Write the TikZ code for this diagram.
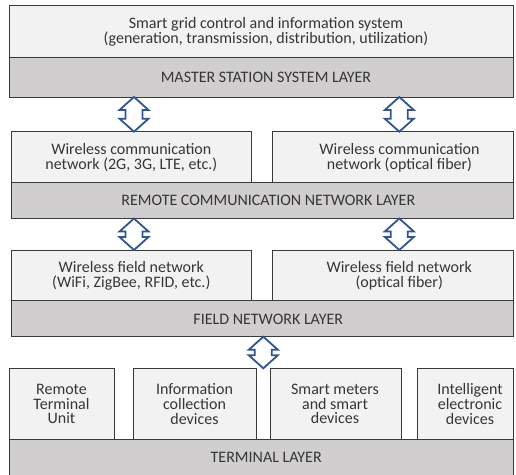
\documentclass[tikz,border=0pt]{standalone}
\usepackage{fontspec}
\setmainfont{Carlito}
\usetikzlibrary{calc}
\definecolor{lightbox}{HTML}{F2F2F2}
\definecolor{layerbox}{HTML}{D0CECE}
\definecolor{edgecol}{HTML}{3A3A3A}
\definecolor{txtcol}{HTML}{363636}
\definecolor{arrcol}{HTML}{2F5597}
\newcommand\updown[2]{\draw[dblarr] let \p1=#1, \p2=#2 in
 (\x1,\y1) -- (\x1+14.5pt,\y1-13pt) -- (\x1+8.5pt,\y1-13pt) -- (\x1+8.5pt,\y2+13pt)
 -- (\x1+14.5pt,\y2+13pt) -- (\x1,\y2) -- (\x1-14.5pt,\y2+13pt) -- (\x1-8.5pt,\y2+13pt)
 -- (\x1-8.5pt,\y1-13pt) -- (\x1-14.5pt,\y1-13pt) -- cycle;}
\begin{document}
\begin{tikzpicture}[x=1pt,y=-1pt,
  box/.style={draw=edgecol,line width=0.9pt,anchor=north west,inner sep=0pt,outer sep=0pt},
  subbox/.style={box,fill=lightbox},
  laybox/.style={box,fill=layerbox},
  txt/.style={text=txtcol,align=center,inner sep=0pt,font=\fontsize{16}{14.8}\selectfont},
  dblarr/.style={draw=arrcol,fill=white,line width=1.8pt,line join=miter}]
\useasboundingbox (0,0) rectangle (516,474);
% top block
\node[subbox,minimum width=504pt,minimum height=52pt] (top) at (9,5) {};
\node[laybox,minimum width=504pt,minimum height=40pt] (master) at (9,57) {};
\node[txt] (topt) at (266,32) {Smart grid control and information system\\(generation, transmission, distribution, utilization)};
\node[txt] (mastert) at (266,77) {MASTER STATION SYSTEM LAYER};
% remote communication
\node[subbox,minimum width=239.3pt,minimum height=51pt] (wc1) at (11.7,131.7) {};
\node[subbox,minimum width=240.3pt,minimum height=51pt] (wc2) at (272.7,131.7) {};
\node[laybox,minimum width=501.3pt,minimum height=35.8pt] (remote) at (11.7,182.7) {};
\node[txt] (wc1t) at (131.3,157.5) {Wireless communication\\network (2G, 3G, LTE, etc.)};
\node[txt] (wc2t) at (399.5,157.5) {Wireless communication\\network (optical fiber)};
\node[txt] (remotet) at (268.3,200.8) {REMOTE COMMUNICATION NETWORK LAYER};
% field network
\node[subbox,minimum width=239.3pt,minimum height=50.7pt] (wf1) at (11.7,250) {};
\node[subbox,minimum width=240.3pt,minimum height=50.7pt] (wf2) at (272.7,250) {};
\node[laybox,minimum width=501.3pt,minimum height=36pt] (field) at (11.7,300.7) {};
\node[txt] (wf1t) at (131.3,275.6) {Wireless field network\\(WiFi, ZigBee, RFID, etc.)};
\node[txt] (wf2t) at (399.2,275.6) {Wireless field network\\(optical fiber)};
\node[txt] (fieldt) at (268.3,318.9) {FIELD NETWORK LAYER};
% terminal
\node[subbox,minimum width=105.3pt,minimum height=71pt] (t1) at (9,368.3) {};
\node[subbox,minimum width=123.4pt,minimum height=71pt] (t2) at (133.3,368.3) {};
\node[subbox,minimum width=131pt,minimum height=71pt] (t3) at (270,368.3) {};
\node[subbox,minimum width=95.7pt,minimum height=71pt] (t4) at (417.3,368.3) {};
\node[laybox,minimum width=504pt,minimum height=45pt] (terminal) at (9,439.3) {};
\node[txt] (t1t) at (61.5,404) {Remote\\Terminal\\Unit};
\node[txt] (t2t) at (194.5,404) {Information\\collection\\devices};
\node[txt] (t3t) at (335,404) {Smart meters\\and smart\\devices};
\node[txt] (t4t) at (470,404) {Intelligent\\electronic\\devices};
\node[txt] (terminalt) at (266.2,457.3) {TERMINAL LAYER};
% arrows
\updown{(134,0 |- master.south)}{(134,0 |- wc1.north)}
\updown{(399.3,0 |- master.south)}{(399.3,0 |- wc2.north)}
\updown{(134,0 |- remote.south)}{(134,0 |- wf1.north)}
\updown{(399.3,0 |- remote.south)}{(399.3,0 |- wf2.north)}
\updown{(263.3,0 |- field.south)}{(263.3,0 |- t3.north)}
\end{tikzpicture}
\end{document}
